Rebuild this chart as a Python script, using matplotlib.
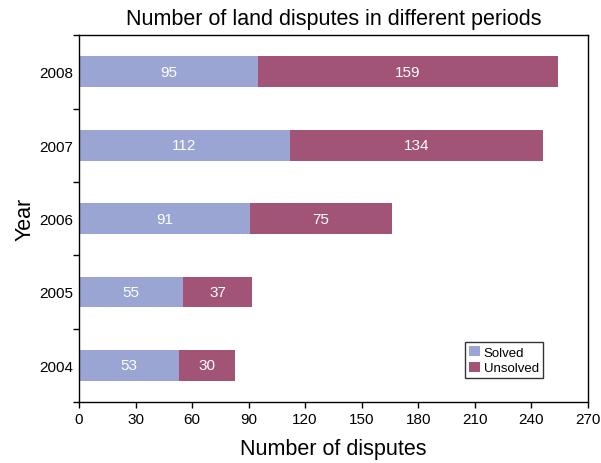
import numpy as np
import matplotlib.pyplot as plt

plt.rcParams['font.family'] = ['Liberation Sans', 'DejaVu Sans']

years = ['2004', '2005', '2006', '2007', '2008']
solved = [53, 55, 91, 112, 95]
unsolved = [30, 37, 75, 134, 159]

c_solved = '#9aa5d4'
c_unsolved = '#a25476'

fig = plt.figure(figsize=(6.01, 4.64), dpi=100)
ax = fig.add_axes([0.1314, 0.1315, 0.8466, 0.7905])

pos = np.arange(len(years))
b1 = ax.barh(pos, solved, height=0.42, color=c_solved, label='Solved')
b2 = ax.barh(pos, unsolved, left=solved, height=0.42, color=c_unsolved, label='Unsolved')

for vals, starts in [(solved, [0] * len(solved)), (unsolved, solved)]:
    for p, v, s in zip(pos, vals, starts):
        ax.text(s + v / 2, p, str(v), ha='center', va='center', color='white', fontsize=11)

ax.set_xlim(0, 270)
ax.set_ylim(-0.5, 4.5)
ax.set_xticks(np.arange(0, 271, 30))
# category labels in the middle, ticks on the boundaries
ax.set_yticks(pos)
ax.set_yticklabels(years)
ax.set_yticks(np.arange(-0.5, 4.6, 1.0), minor=True)
ax.tick_params(axis='y', which='major', length=0, labelsize=11, pad=4)
ax.tick_params(axis='y', which='minor', length=4, width=1)
ax.tick_params(axis='x', labelsize=11, length=4, width=1)

for s in ax.spines.values():
    s.set_linewidth(1)

ax.set_xlabel('Number of disputes', fontsize=15.5, labelpad=8)
ax.set_ylabel('Year', fontsize=15.5, labelpad=3)
ax.set_title('Number of land disputes in different periods', fontsize=15.5, pad=8)

ax.legend(loc='lower right', bbox_to_anchor=(0.912, 0.065), fontsize=9.5, frameon=True,
          fancybox=False, edgecolor='black', handlelength=0.8, handleheight=0.8,
          handletextpad=0.3, borderpad=0.3, labelspacing=0.2, borderaxespad=0)

fig.savefig('out.png', dpi=100)
